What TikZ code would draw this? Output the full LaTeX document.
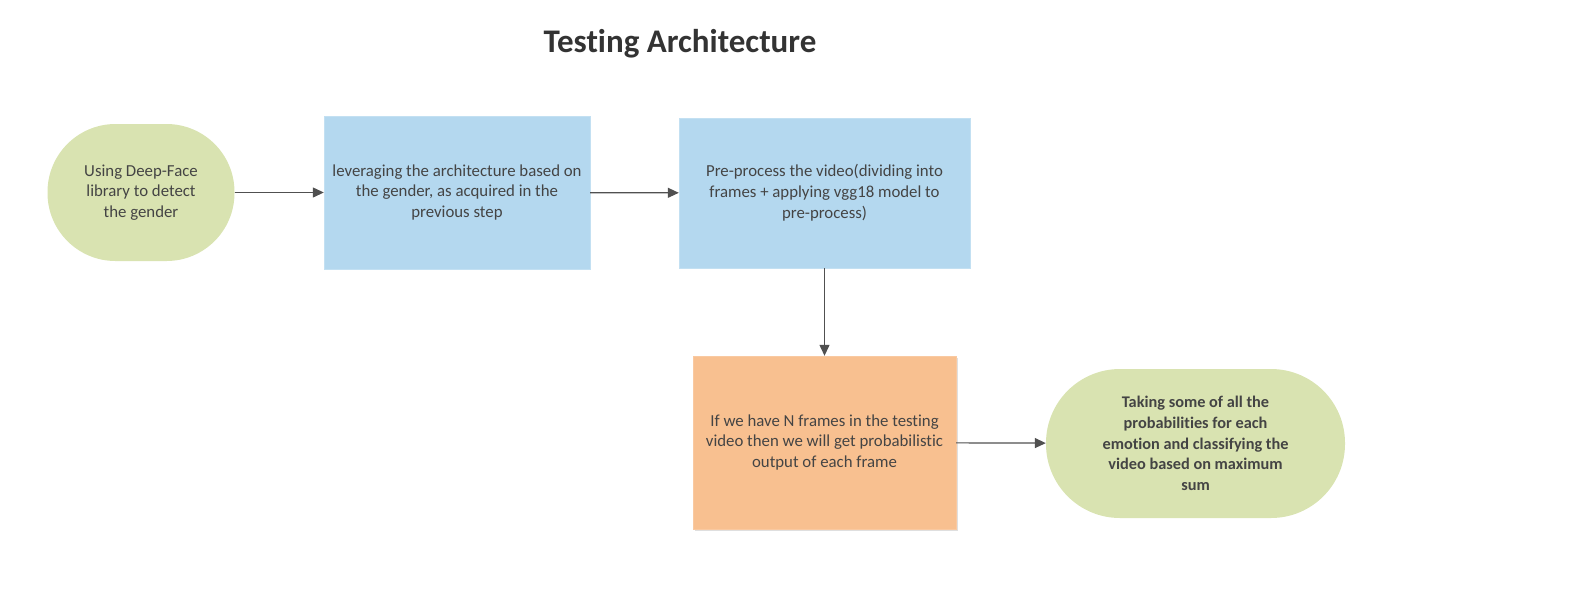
\documentclass[tikz,border=0pt]{standalone}
\usepackage{fontspec}
\setmainfont{Carlito}[Ligatures=NoCommon]
\usepackage{xcolor}
\usetikzlibrary{arrows.meta,shadows}

\definecolor{termgreen}{HTML}{D9E3B1}
\definecolor{stepblue}{HTML}{B4D8EF}
\definecolor{steporange}{HTML}{F8C090}
\definecolor{linegray}{HTML}{505050}
\definecolor{textgray}{HTML}{444444}

\begin{document}
\begin{tikzpicture}[x=1pt, y=-1pt,
        every node/.style={align=center, text=textgray,
        font=\fontsize{16.8}{20.8}\selectfont, inner sep=0pt},
        term/.style={fill=termgreen, rounded corners=68pt},
        stepbox/.style={fill=stepblue, draw=stepblue!80!white},
        link/.style={linegray, line width=1.2pt, -{Triangle[length=11pt, width=10pt]}}]
        \useasboundingbox (0,0) rectangle (1592,598);

        \node[font=\fontsize{33}{36}\selectfont\bfseries, text=black!80] (T) at (680,44) {Testing Architecture};

        \node[term, minimum width=187pt, minimum height=137pt] (A) at (141,192.5)
            {Using Deep-Face\\library to detect\\the gender};
        \node[stepbox, minimum width=266pt, minimum height=153pt] (B) at (457,192.5)
            {leveraging the architecture based on\\the gender, as acquired in the\\previous step};
        \node[stepbox, minimum width=291pt, minimum height=150pt] (C) at (824.5,193)
            {Pre-process the video(dividing into\\frames + applying vgg18 model to\\pre-process)};
        \node[fill=steporange, draw=steporange!85!white, minimum width=263pt, minimum height=173pt,
            drop shadow={opacity=0.25, shadow xshift=1.5pt, shadow yshift=-1.5pt}] (D) at (824.5,442.5)
            {If we have N frames in the testing\\video then we will get probabilistic\\output of each frame};
        \node[term, minimum width=299pt, minimum height=149pt, rounded corners=74pt,
            font=\fontsize{16.3}{20.8}\selectfont\bfseries] (E) at (1195.5,443.5)
            {Taking some of all the\\probabilities for each\\emotion and classifying the\\video based on maximum\\sum};

        \draw[link] (A) -- (B);
        \draw[link] (B) -- (C);
        \draw[link] (C) -- (D);
        \draw[link] (D) -- (E);
    \end{tikzpicture}
\end{document}
